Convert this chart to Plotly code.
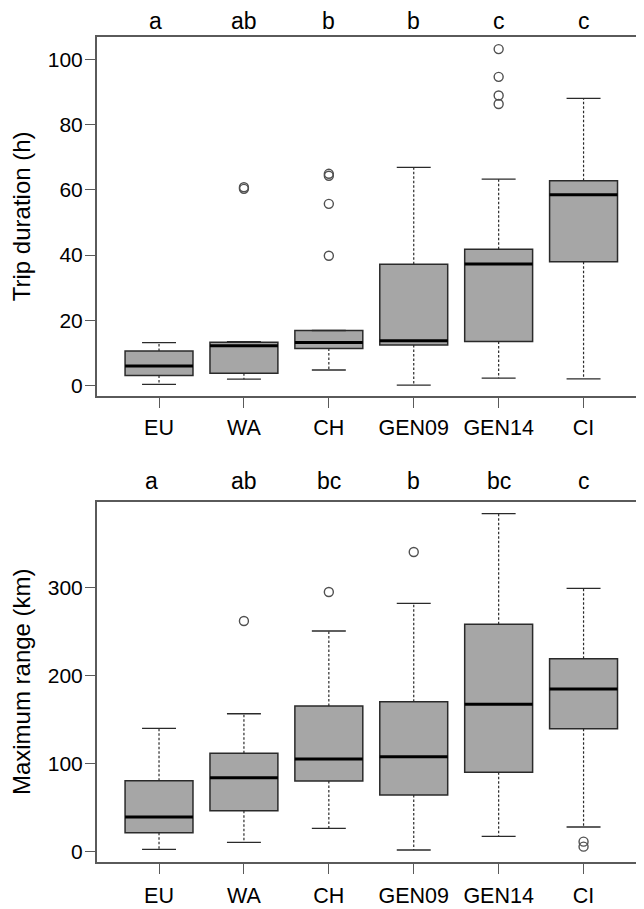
import plotly.graph_objects as go

# ---------------- data ----------------
categories = ["EU", "WA", "CH", "GEN09", "GEN14", "CI"]
letters_duration = ["a", "ab", "b", "b", "c", "c"]
letters_range = ["a", "ab", "bc", "b", "bc", "c"]

# Trip duration (h)
dur_low = [0.4, 2.0, 4.8, 0.2, 2.3, 2.1]
dur_q1 = [3.1, 3.8, 11.4, 12.5, 13.5, 38.0]
dur_med = [6.0, 12.2, 13.2, 13.8, 37.3, 58.5]
dur_q3 = [10.6, 13.3, 16.9, 37.2, 41.8, 62.8]
dur_high = [13.2, 13.5, 16.9, 66.9, 63.3, 88.0]
dur_out = [[], [60.3, 60.8], [39.8, 55.7, 64.3, 64.9], [], [86.3, 88.9, 94.6, 103.1], []]

# Maximum range (km)
rng_low = [2.7, 10.6, 26.5, 1.9, 17.5, 28.0]
rng_q1 = [21.6, 46.5, 80.2, 64.4, 90.1, 139.6]
rng_med = [39.4, 84.0, 105.2, 107.8, 167.3, 184.7]
rng_q3 = [80.6, 111.7, 165.4, 170.3, 258.1, 219.1]
rng_high = [140.0, 156.6, 250.5, 281.9, 383.7, 299.0]
rng_out = [[], [261.9], [294.8], [340.2], [], [5.7, 11.4]]

dur_ticks = [0, 20, 40, 60, 80, 100]
rng_ticks = [0, 100, 200, 300]

# ---------------- style ----------------
OFF = 8                      # page body margin of the html page
W, H = 644 - OFF, 909 - OFF
FONT = "Liberation Sans, Arial, sans-serif"
FS_TICK = 21
FS_CAT = 21.5
FS_TITLE = 24
FS_LET = 23
TXT = "#000000"
FRAME = "#5a5a5a"
BOXLINE = "#2a2a2a"
FILL = "#a6a6a6"
BOXW = 0.8
CAPW = 0.4

positions = list(range(1, len(categories) + 1))


def px_y(p):
    return 1 - (p - OFF) / H


def px_x(p):
    return (p - OFF) / W


def add_panel(fig, xref, yref, low, q1, med, q3, high, out):
    fig.add_trace(go.Box(
        x=positions, q1=q1, median=med, q3=q3,
        lowerfence=q1, upperfence=q3,
        width=BOXW, whiskerwidth=0, boxpoints=False,
        fillcolor=FILL, line=dict(color=BOXLINE, width=1.5),
        xaxis=xref, yaxis=yref, showlegend=False, hoverinfo="skip"))
    wx, wy, cx, cy = [], [], [], []
    for p, lo, a, b, hi in zip(positions, low, q1, q3, high):
        if hi > b:
            wx += [p, p, None]
            wy += [b, hi, None]
        if lo < a:
            wx += [p, p, None]
            wy += [a, lo, None]
        cx += [p - CAPW / 2, p + CAPW / 2, None, p - CAPW / 2, p + CAPW / 2, None]
        cy += [hi, hi, None, lo, lo, None]
    fig.add_trace(go.Scatter(x=wx, y=wy, mode="lines",
                             line=dict(color=BOXLINE, width=1.2, dash="2.5px,2px"),
                             xaxis=xref, yaxis=yref, showlegend=False, hoverinfo="skip"))
    fig.add_trace(go.Scatter(x=cx, y=cy, mode="lines",
                             line=dict(color=BOXLINE, width=1.3),
                             xaxis=xref, yaxis=yref, showlegend=False, hoverinfo="skip"))
    mx, my = [], []
    for p, m in zip(positions, med):
        mx += [p - BOXW / 2, p + BOXW / 2, None]
        my += [m, m, None]
    fig.add_trace(go.Scatter(x=mx, y=my, mode="lines",
                             line=dict(color="#000000", width=3),
                             xaxis=xref, yaxis=yref, showlegend=False, hoverinfo="skip"))
    ox, oy = [], []
    for p, vals in zip(positions, out):
        for v in vals:
            ox.append(p)
            oy.append(v)
    fig.add_trace(go.Scatter(x=ox, y=oy, mode="markers",
                             marker=dict(symbol="circle-open", size=9,
                                         line=dict(color="#505050", width=1.4),
                                         color="#505050"),
                             xaxis=xref, yaxis=yref, showlegend=False, hoverinfo="skip"))


fig = go.Figure()
add_panel(fig, "x", "y", dur_low, dur_q1, dur_med, dur_q3, dur_high, dur_out)
add_panel(fig, "x2", "y2", rng_low, rng_q1, rng_med, rng_q3, rng_high, rng_out)

xdom = [px_x(96.7), min(1.0, px_x(643.5))]
xrange = [0.266, 6.706]
common_x = dict(range=xrange, domain=xdom, tickmode="array", tickvals=positions,
                ticktext=categories, ticks="outside", ticklen=10, tickwidth=1.3,
                tickcolor=FRAME, showline=True, linecolor=FRAME, linewidth=1.5,
                mirror=True, showgrid=False, zeroline=False,
                tickfont=dict(family=FONT, size=FS_CAT, color=TXT))
common_y = dict(ticks="outside", ticklen=10, tickwidth=1.3, tickcolor=FRAME,
                showline=True, linecolor=FRAME, linewidth=1.5, mirror=True,
                showgrid=False, zeroline=False,
                tickfont=dict(family=FONT, size=FS_TICK, color=TXT), ticklabelstandoff=-2)

fig.update_layout(
    width=W, height=H,
    margin=dict(l=0, r=0, t=0, b=0),
    paper_bgcolor="white", plot_bgcolor="white",
    font=dict(family=FONT, size=FS_CAT, color=TXT),
    xaxis=dict(anchor="y", ticklabelstandoff=1, **common_x),
    xaxis2=dict(anchor="y2", ticklabelstandoff=3, **common_x),
    yaxis=dict(anchor="x", domain=[px_y(396), px_y(36.7)], range=[-3.16, 106.9],
               tickvals=dur_ticks,
               title=dict(text="Trip duration (h)",
                          font=dict(family=FONT, size=FS_TITLE, color=TXT), standoff=12),
               **common_y),
    yaxis2=dict(anchor="x2", domain=[px_y(862), px_y(501.5)], range=[-11.7, 397.5],
                tickvals=rng_ticks,
                title=dict(text="Maximum range (km)",
                           font=dict(family=FONT, size=FS_TITLE, color=TXT), standoff=12),
                **common_y),
)

annotations = []
for i, (p, t) in enumerate(zip(positions, letters_duration)):
    annotations.append(dict(x=p, y=px_y(20.5), xref="x", yref="paper", text=t,
                            showarrow=False, xanchor="center", yanchor="middle",
                            borderpad=0, xshift=-4 if i == 0 else 0,
                            font=dict(family=FONT, size=FS_LET, color=TXT)))
for i, (p, t) in enumerate(zip(positions, letters_range)):
    annotations.append(dict(x=p, y=px_y(481.5), xref="x2", yref="paper", text=t,
                            showarrow=False, xanchor="center", yanchor="middle",
                            borderpad=0, xshift=-8 if i == 0 else 0,
                            font=dict(family=FONT, size=FS_LET, color=TXT)))
fig.update_layout(annotations=annotations)

fig.write_html("out.html")
